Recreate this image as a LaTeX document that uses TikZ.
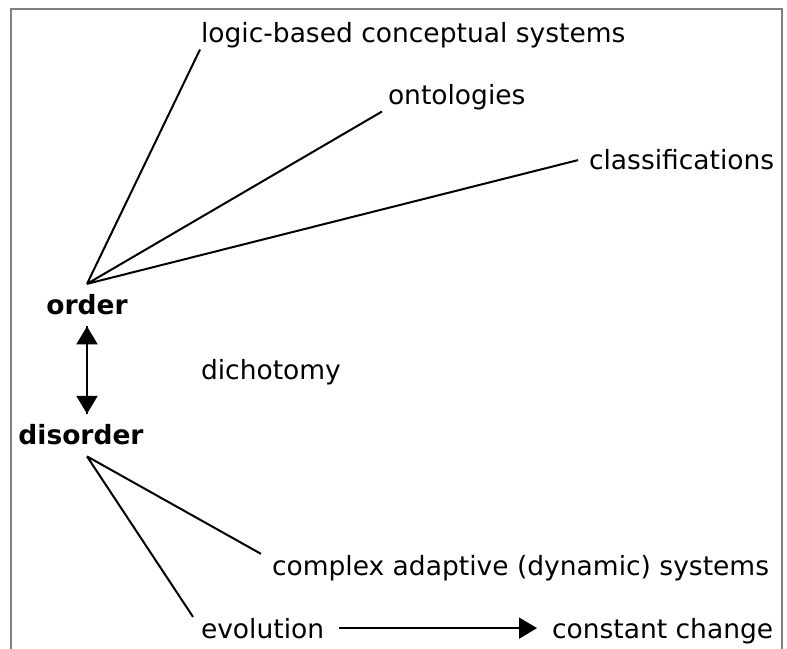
\documentclass[tikz,border=0pt]{standalone}
\usepackage{fontspec}
\setmainfont{DejaVu Sans}
\usepackage{tikz}
\usetikzlibrary{arrows.meta,positioning}

\begin{document}
\begin{tikzpicture}[x=1pt, y=1pt, line width=2pt,
            every node/.style={inner sep=0pt, font=\fontsize{26.5}{31}\selectfont},
            term/.style={anchor=base west},
            hub/.style={anchor=base, inner ysep=10pt, font=\fontsize{26.5}{31}\selectfont\bfseries},
            tip/.style={-{Triangle[width=21pt,length=18pt]}}]
            \useasboundingbox (0,0) rectangle (787,648);
            \draw [gray, line width=2.5pt] (11,-20) rectangle (782,639);
            \node [term] (logic) at (200,605) {logic-based conceptual systems};
            \node [term] (onto) at (387,543) {ontologies};
            \node [term] (classif) at (588,478) {classifications};
            \node [hub] (order) at (87,333) {order};
            \node [term] (dicho) at (200,268) {dichotomy};
            \node [hub] (disorder) at (81,203) {disorder};
            \node [term] (cas) at (271,73) {complex adaptive (dynamic) systems};
            \node [term] (evol) at (200,10) {evolution};
            \node [term] (change) at (551,10) {constant change};
            \draw (order.north) -- (logic.south west)
                (order.north) -- ([xshift=-5pt]onto.south west)
                (order.north) -- ([xshift=-10pt]classif.west);
            \draw [tip] (order.south) -- (order.south |- disorder.north);
            \draw [tip] (order.south |- disorder.north) -- (order.south);
            \draw ([xshift=6pt]disorder.south) -- ([xshift=-10pt]cas.north west)
                ([xshift=6pt]disorder.south) -- ([xshift=-7pt]evol.north west);
            \draw [tip, shorten <=14pt, shorten >=14pt] (evol.east) -- (change.west |- evol.east);
\end{tikzpicture}
\end{document}
